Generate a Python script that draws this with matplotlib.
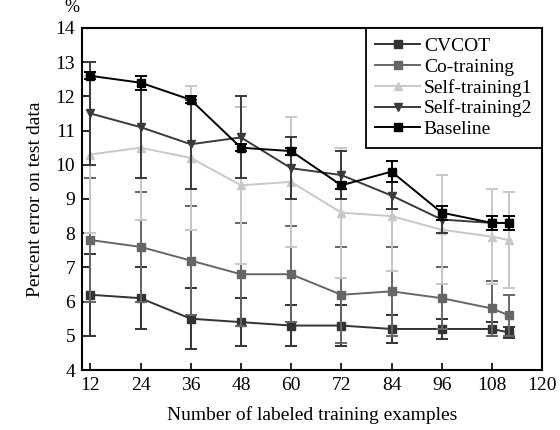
import matplotlib
matplotlib.use("Agg")
import matplotlib.pyplot as plt
from matplotlib.lines import Line2D

x = [12, 24, 36, 48, 60, 72, 84, 96, 108, 112]
cvcot = [6.2, 6.1, 5.5, 5.4, 5.3, 5.3, 5.2, 5.2, 5.2, 5.1]
cvcot_err = [1.2, 0.9, 0.9, 0.7, 0.6, 0.6, 0.4, 0.3, 0.2, 0.15]
cotrain = [7.8, 7.6, 7.2, 6.8, 6.8, 6.2, 6.3, 6.1, 5.8, 5.6]
cotrain_err = [1.8, 1.6, 1.6, 1.5, 1.4, 1.4, 1.3, 0.9, 0.8, 0.6]
self1 = [10.3, 10.5, 10.2, 9.4, 9.5, 8.6, 8.5, 8.1, 7.9, 7.8]
self1_err = [2.3, 2.1, 2.1, 2.3, 1.9, 1.9, 1.6, 1.6, 1.4, 1.4]
self2 = [11.5, 11.1, 10.6, 10.8, 9.9, 9.7, 9.1, 8.4, 8.3, 8.3]
self2_err = [1.5, 1.5, 1.3, 1.2, 0.9, 0.7, 0.4, 0.4, 0.2, 0.2]
baseline = [12.6, 12.4, 11.9, 10.5, 10.4, 9.4, 9.8, 8.6, 8.3, 8.3]
baseline_err = [0.1, 0.2, 0.1, 0.1, 0.1, 0.1, 0.3, 0.2, 0.2, 0.2]

xticks = [12, 24, 36, 48, 60, 72, 84, 96, 108, 120]
yticks = [4, 5, 6, 7, 8, 9, 10, 11, 12, 13, 14]

plt.rcParams['font.family'] = ['Liberation Serif', 'DejaVu Serif']

fig = plt.figure(figsize=(5.6, 4.3), dpi=100)
ax = fig.add_axes([0.1464, 0.1395, 0.8216, 0.7955])

series = [
    ("CVCOT", cvcot, cvcot_err, "#333333", "s"),
    ("Co-training", cotrain, cotrain_err, "#666666", "s"),
    ("Self-training1", self1, self1_err, "#c8c8c8", "^"),
    ("Self-training2", self2, self2_err, "#3a3a3a", "v"),
    ("Baseline", baseline, baseline_err, "#000000", "s"),
]
handles = []
for i, (lab, y, e, c, m) in enumerate(series):
    ax.errorbar(x, y, yerr=e, color=c, ecolor=c, marker=m, markersize=5.5,
                linewidth=1.4, elinewidth=1.4, capsize=4, capthick=1.4,
                zorder=2 + i)
    handles.append(Line2D([], [], color=c, marker=m, markersize=5.5,
                          linewidth=1.4, label=lab))

ax.set_xlim(10, 120)
ax.set_ylim(4, 14)
ax.set_xticks(xticks)
ax.set_yticks(yticks)
ax.tick_params(direction='in', length=5, width=1.2, labelsize=14, pad=5)
for s in ax.spines.values():
    s.set_linewidth(1.5)

ax.set_xlabel("Number of labeled training examples", fontsize=14, labelpad=9)
ax.set_ylabel("Percent error on test data", fontsize=14, labelpad=8)
ax.text(-0.022, 1.035, "%", transform=ax.transAxes, fontsize=13, ha='center', va='bottom')

leg = ax.legend(handles=handles, loc='upper right', borderaxespad=0, fancybox=False,
                fontsize=14, handlelength=2.3, labelspacing=0.15, handletextpad=0.2,
                borderpad=0.5)
leg.get_frame().set_edgecolor('black')
leg.get_frame().set_linewidth(1.3)
leg.get_frame().set_alpha(1)

fig.savefig("out.png", dpi=100)
